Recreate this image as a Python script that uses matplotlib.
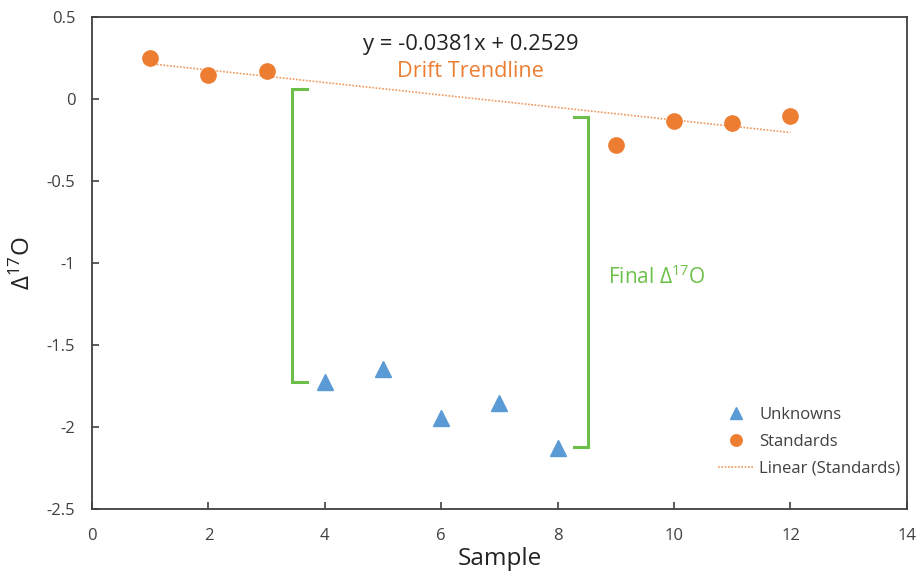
import matplotlib.pyplot as plt

# standards and unknowns, delta 17O per sample
std_x = [1, 2, 3, 9, 10, 11, 12]
std_y = [0.25, 0.146, 0.171, -0.28, -0.134, -0.146, -0.104]
unk_x = [4, 5, 6, 7, 8]
unk_y = [-1.726, -1.646, -1.945, -1.854, -2.128]

# drift trendline through the standards
slope = -0.0381
intercept = 0.2529
trend_x = [1, 12]

# brackets for the corrected values: (x of spine, x of arms, y bottom, y top)
brackets = [(3.44, 3.7, -1.726, 0.06), (8.52, 8.28, -2.12, -0.11)]

orange = '#ED7D31'
blue = '#5B9BD5'
green = '#6CC04A'
dark = '#404040'

plt.rcParams['font.family'] = ['Open Sans', 'DejaVu Sans']
plt.rcParams['mathtext.fontset'] = 'custom'
plt.rcParams['mathtext.rm'] = 'Open Sans'
plt.rcParams['mathtext.it'] = 'Open Sans:italic'

fig = plt.figure(figsize=(9.17, 5.8), dpi=100)
ax = fig.add_axes([0.1003, 0.1224, 0.8887, 0.8483])

ax.plot(unk_x, unk_y, linestyle='None', marker='^', markersize=11, color=blue, label='Unknowns')
ax.plot(std_x, std_y, linestyle='None', marker='o', markersize=11, color=orange, label='Standards')
trend_y = [slope * x + intercept for x in trend_x]
ax.plot(trend_x, trend_y, linestyle=(0, (1, 1)), linewidth=1.2, color=orange, alpha=0.8,
        label='Linear (Standards)')

for xs, xa, yb, yt in brackets:
    ax.plot([xa, xs, xs, xa], [yt, yt, yb, yb], color=green, linewidth=2.2, solid_joinstyle='miter')

ax.text(6.5, 0.335, 'y = -0.0381x + 0.2529', ha='center', va='center', fontsize=15.8, color='#222222')
ax.text(6.5, 0.165, 'Drift Trendline', ha='center', va='center', fontsize=15.6, color=orange)
ax.text(8.87, -1.085, r'Final $\mathrm{\Delta}^{17}$O', ha='left', va='center', fontsize=15, color=green)

ax.set_xlim(0, 14)
ax.set_ylim(-2.5, 0.5)
ax.set_xticks(range(0, 15, 2))
ax.set_yticks([0.5, 0, -0.5, -1, -1.5, -2, -2.5])
ax.set_yticklabels(['0.5', '0', '-0.5', '-1', '-1.5', '-2', '-2.5'])
ax.tick_params(direction='in', length=5, width=1.2, color=dark, labelcolor=dark, labelsize=12)
ax.tick_params(axis='y', pad=12)
ax.tick_params(axis='x', pad=14)
for s in ax.spines.values():
    s.set_color(dark)
    s.set_linewidth(1.3)

ax.set_xlabel('Sample', fontsize=17.5, color='#222222', labelpad=2)
ax.set_ylabel(r'$\mathrm{\Delta}^{17}$O', fontsize=17.5, color='#222222', labelpad=8)

ax.legend(loc='lower right', bbox_to_anchor=(1.0, 0.052), frameon=False, fontsize=12,
          markerscale=0.75, handlelength=2.1, handletextpad=0.35, labelspacing=0.65,
          labelcolor=dark, borderaxespad=0)

fig.savefig('out.png', dpi=100)
